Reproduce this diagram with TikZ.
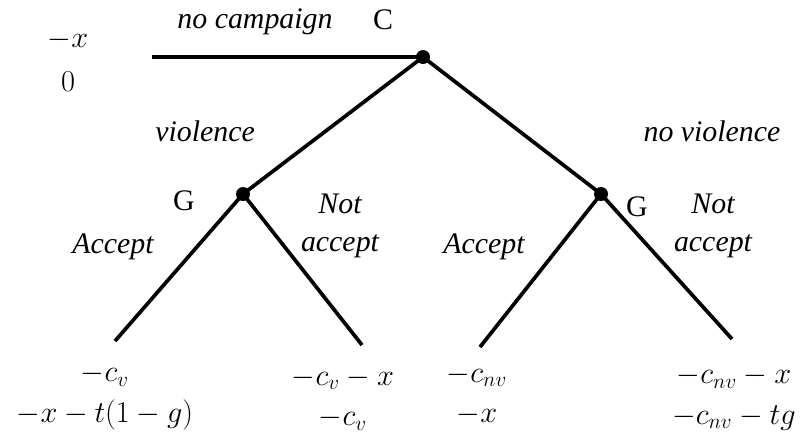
\documentclass[tikz,border=0pt]{standalone}
\usepackage{fontspec}
\setmainfont{Liberation Serif}[ItalicFont={Liberation Serif Italic}]
\usetikzlibrary{positioning}
\tikzset{
    % tree parts
    decision/.style={circle,fill=black,inner sep=0pt,minimum size=0.28cm},
    branch/.style={line width=2.1pt},
    % texts
    movelabel/.style={font=\fontsize{17}{21.5}\selectfont\itshape,align=center,inner sep=0pt},
    player/.style={font=\fontsize{17}{20}\selectfont,inner sep=0pt},
    payoff/.style={font=\fontsize{18}{19}\selectfont,align=center,inner sep=0pt}
}

\begin{document}
\begin{tikzpicture}[x=0.02cm,y=-0.02cm]
    \useasboundingbox (0,0) rectangle (800,437);

    % decision nodes
    \node[decision] (C) at (423,57) {};
    \node[decision] (GL) at (243,194) {};
    \node[decision] (GR) at (601,194) {};

    % ends of the branches
    \coordinate (out) at (152,57);
    \coordinate (vA) at (115,341);
    \coordinate (vN) at (362,345);
    \coordinate (nA) at (480,347);
    \coordinate (nN) at (732,339);

    % branches
    \draw[branch] (C.center) -- (out);
    \draw[branch] (C.center) -- (GL.center);
    \draw[branch] (C.center) -- (GR.center);
    \draw[branch] (GL.center) -- (vA);
    \draw[branch] (GL.center) -- (vN);
    \draw[branch] (GR.center) -- (nA);
    \draw[branch] (GR.center) -- (nN);

    % players
    \node[player] (pC) at (383,20) {C};
    \node[player] (pGL) at (184,201) {G};
    \node[player] (pGR) at (637,207) {G};

    % moves
    \node[movelabel] (noCamp) at (255,22) {no campaign};
    \node[movelabel] (viol) at (205,131) {violence};
    \node[movelabel] (noViol) at (712,131) {no violence};
    \node[movelabel] (accL) at (113,247) {Accept};
    \node[movelabel] (notL) at (340,226) {Not\\accept};
    \node[movelabel] (accR) at (484,247) {Accept};
    \node[movelabel] (notR) at (713,226) {Not\\accept};

    % payoffs
    \node[payoff] (payOut) at (68,61) {$-x$\\[6pt]$0$};
    \node[payoff] (payVA) at (105,397) {$-c_v$\\[4pt]$-x-t(1-g)$};
    \node[payoff] (payVN) at (343,399) {$-c_v-x$\\[4pt]$-c_v$};
    \node[payoff] (payNA) at (477,395) {$-c_{nv}$\\[4pt]$-x$};
    \node[payoff] (payNN) at (734,398) {$-c_{nv}-x$\\[4pt]$-c_{nv}-tg$};
\end{tikzpicture}
\end{document}
